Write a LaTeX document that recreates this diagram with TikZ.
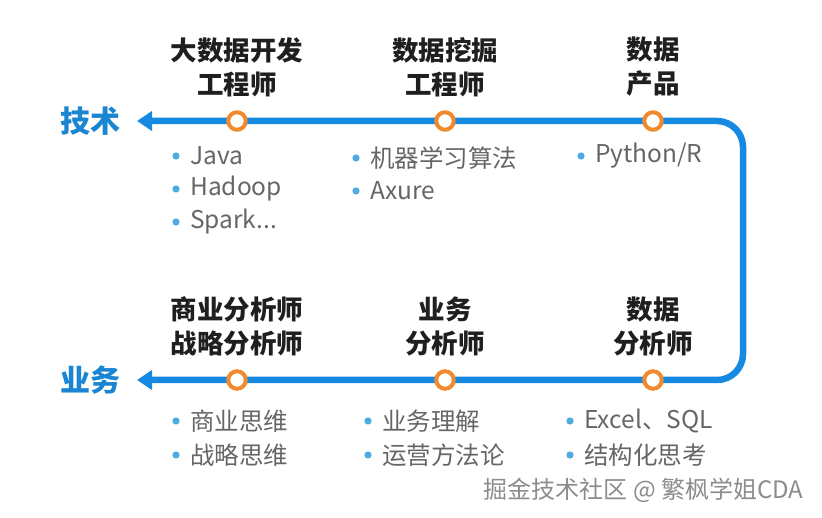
\documentclass[tikz,border=0pt]{standalone}
\usepackage{fontspec}
\setmainfont{Noto Sans CJK SC}
\usetikzlibrary{arrows.meta}
\definecolor{trackblue}{HTML}{1689E0}
\definecolor{sideblue}{HTML}{1A86D2}
\definecolor{ringorange}{HTML}{F08A2C}
\definecolor{dotblue}{HTML}{4DAAE3}
\definecolor{itemgray}{HTML}{666666}
\tikzset{x=1pt, y=-1pt, % pixel-like units, y pointing down
track/.style={ % the blue line running round the picture
draw=trackblue,
line width=6.5pt,
rounded corners=26pt},
stop/.style={ % orange ring on the line
circle,
draw=ringorange,
line width=4pt,
fill=white,
minimum size=17.5pt,
inner sep=0pt},
side/.style={ % big blue label at the arrow tip
font=\fontsize{30}{34}\selectfont\bfseries,
text=sideblue,
anchor=east},
job/.style={ % job title above a stop
font=\fontsize{26.5}{34}\selectfont\bfseries,
text=black!88,
align=center},
skill/.style={ % bullet text
font=\fontsize{24.5}{30}\selectfont,
text=itemgray,
anchor=west,
inner sep=0pt}}

\begin{document}
\begin{tikzpicture}
\useasboundingbox (0,0) rectangle (822,518);
% ends and corners of the line
\coordinate (techtip) at (137,121);
\coordinate (biztip) at (137,380);
\coordinate (tcorner) at (743,121);
\coordinate (bcorner) at (743,380);
\node[side] (tech) at (124,121) {技术};
\node[side] (biz) at (124,380) {业务};
\draw[track, {Triangle[length=15pt,width=19pt]}-{Triangle[length=15pt,width=19pt]}]
(techtip) -- (tcorner) -- (bcorner) -- (biztip);
% stops
\foreach \name/\x/\y in {t1/237/121, t2/445/121, t3/653/121, b1/237/380, b2/445/380, b3/653/380}
\node[stop] (\name) at (\x,\y) {};
% job titles
\node[job, above=10pt] (j1) at (t1.north) {大数据开发\\工程师};
\node[job, above=10pt] (j2) at (t2.north) {数据挖掘\\工程师};
\node[job, above=10pt] (j3) at (t3.north) {数据\\产品};
\node[job, above=10pt] (j4) at (b1.north) {商业分析师\\战略分析师};
\node[job, above=10pt] (j5) at (b2.north) {业务\\分析师};
\node[job, above=10pt] (j6) at (b3.north) {数据\\分析师};
% skills under the stops
\foreach \x/\y/\txt [count=\i] in {190/156/Java, 190/189/Hadoop, 190/222/{Spark...},
370/158/机器学习算法, 370/191/Axure, 595/156/{Python/R},
190/421/商业思维, 190/455/战略思维, 382/421/业务理解, 382/455/运营方法论,
584/421/{Excel、SQL}, 584/455/结构化思考}
{
\fill[dotblue] (\x-14,\y) circle (3.6pt);
\node[skill] (skill\i) at (\x,\y) {\txt};
}
% watermark
\node[font=\fontsize{24}{27}\selectfont, text=black!45, anchor=east] (mark) at (807,490) {掘金技术社区 @ 繁枫学姐CDA};
\end{tikzpicture}
\end{document}
